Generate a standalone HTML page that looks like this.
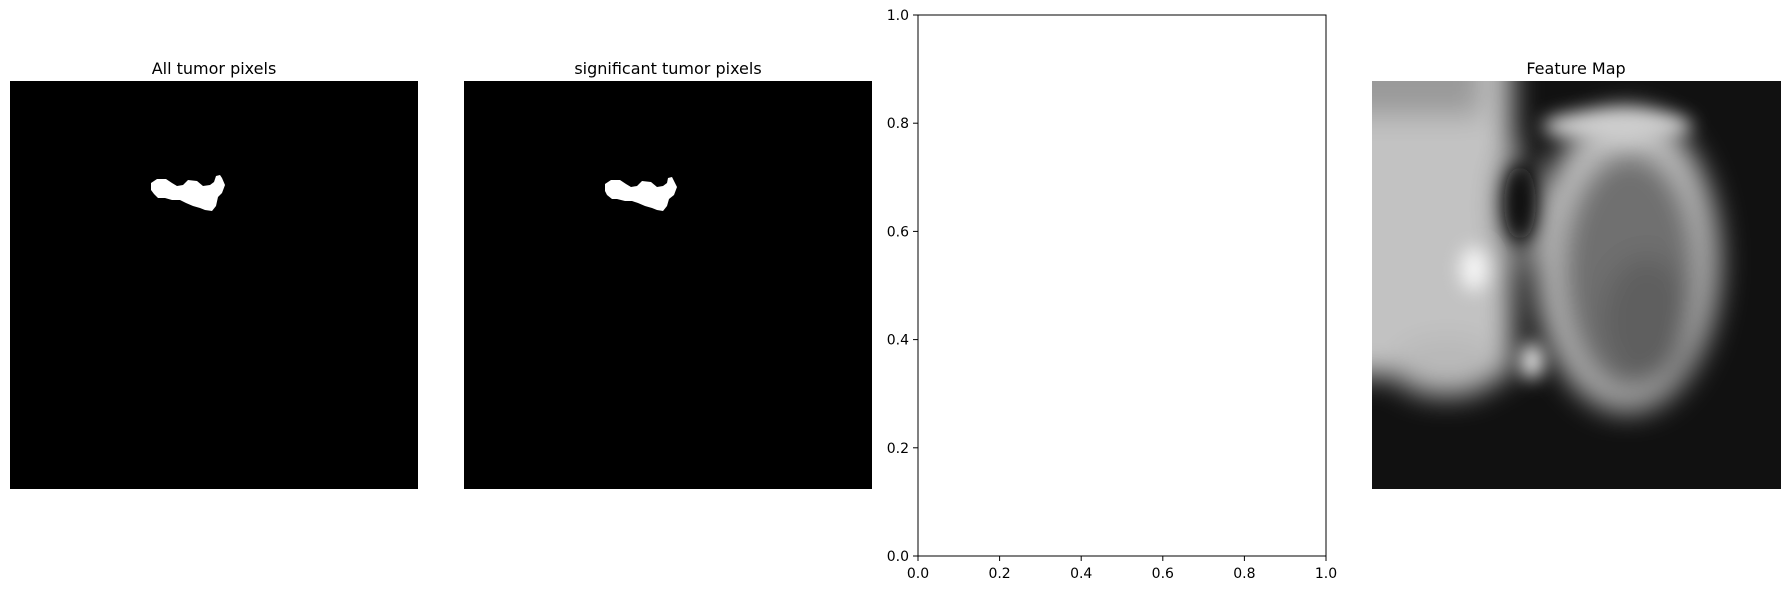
<!DOCTYPE html>
<html><head><meta charset="utf-8"><style>
html,body{margin:0;padding:0;background:#fff;}
svg{display:block;font-family:"DejaVu Sans","Liberation Sans",sans-serif;}
</style></head><body>
<svg width="1790" height="589" viewBox="0 0 1790 589">
<defs>
<filter id="b1" filterUnits="userSpaceOnUse" x="-100" y="-100" width="610" height="610"><feGaussianBlur stdDeviation="14"/></filter>
<filter id="b2" filterUnits="userSpaceOnUse" x="-100" y="-100" width="610" height="610"><feGaussianBlur stdDeviation="9"/></filter>
<clipPath id="fmclip"><rect x="0" y="0" width="409" height="408"/></clipPath>
</defs>

<g>
<text x="214" y="74" font-size="16" text-anchor="middle">All tumor pixels</text>
<rect x="10" y="81" width="408" height="408" fill="#000"/>
<polygon fill="#fff" points="151,183 157,179 166,179 172,183 177,186 183,185 188,180 197,181 203,186 210,185 214,182 216,176 220,175 222,178 225,185 222,193 218,197 216,206 212,211 205,210 200,208 193,206 186,203 180,200 172,200 165,198 158,198 154,194 151,190"/>
</g>

<g>
<text x="668" y="74" font-size="16" text-anchor="middle">significant tumor pixels</text>
<rect x="464" y="81" width="408" height="408" fill="#000"/>
<polygon fill="#fff" points="605,184 611,180 620,180 626,184 631,187 637,186 642,181 651,182 657,187 663,186 667,183 668,178 672,177 674,181 677,187 674,195 669,199 667,206 663,211 657,210 652,208 645,206 638,203 632,201 625,201 617,199 612,199 607,195 605,191"/>
</g>

<g>
<rect x="918" y="15" width="408" height="541" fill="#fff" stroke="#000" stroke-width="1"/>
<g id="ticks"></g>
</g>

<g>
<text x="1576" y="74" font-size="16" text-anchor="middle">Feature Map</text>
<g transform="translate(1372,81)" clip-path="url(#fmclip)">
<rect x="0" y="0" width="409" height="408" fill="#111"/>
<g filter="url(#b1)">
<rect x="-40" y="-40" width="180" height="335" fill="#c2c2c2"/>
<rect x="-40" y="-40" width="150" height="75" fill="#9a9a9a"/>
<ellipse cx="75" cy="285" rx="55" ry="30" fill="#b8b8b8"/>
<ellipse cx="255" cy="180" rx="92" ry="150" fill="#c2c2c2"/>
<ellipse cx="258" cy="192" rx="70" ry="122" fill="#707070"/>
<ellipse cx="275" cy="240" rx="45" ry="65" fill="#5e5e5e"/>
<ellipse cx="148" cy="125" rx="22" ry="60" fill="#1c1c1c"/>
</g>
<g filter="url(#b2)">
<ellipse cx="148" cy="122" rx="16" ry="38" fill="#080808"/>
<ellipse cx="102" cy="188" rx="14" ry="22" fill="#f6f6f6"/>
<ellipse cx="160" cy="280" rx="12" ry="18" fill="#e8e8e8"/>
<ellipse cx="245" cy="45" rx="75" ry="16" fill="#cfcfcf"/>
</g>
</g>
</g>

<script>
const xTicks = [0.0, 0.2, 0.4, 0.6, 0.8, 1.0];
const yTicks = [0.0, 0.2, 0.4, 0.6, 0.8, 1.0];
const xs = v => 918 + v * 408;
const ys = v => 556 - v * 541;
const g = document.getElementById('ticks');
const NS = 'http://www.w3.org/2000/svg';
xTicks.forEach(v => {
  const l = document.createElementNS(NS, 'line');
  l.setAttribute('x1', xs(v)); l.setAttribute('x2', xs(v));
  l.setAttribute('y1', 556); l.setAttribute('y2', 561);
  l.setAttribute('stroke', '#000');
  
  
  g.appendChild(l);
  const t = document.createElementNS(NS, 'text');
  t.setAttribute('x', xs(v)); t.setAttribute('y', 578);
  t.setAttribute('font-size', '14'); t.setAttribute('text-anchor', 'middle');
  t.textContent = v.toFixed(1);
  
  
  g.appendChild(t);
});
yTicks.forEach(v => {
  const l = document.createElementNS(NS, 'line');
  l.setAttribute('x1', 913); l.setAttribute('x2', 918);
  l.setAttribute('y1', ys(v)); l.setAttribute('y2', ys(v));
  l.setAttribute('stroke', '#000');
  
  
  g.appendChild(l);
  const t = document.createElementNS(NS, 'text');
  t.setAttribute('x', 909); t.setAttribute('y', ys(v) + 5);
  t.setAttribute('font-size', '14'); t.setAttribute('text-anchor', 'end');
  t.textContent = v.toFixed(1);
  
  
  g.appendChild(t);
});
</script>
</svg>
</body></html>
